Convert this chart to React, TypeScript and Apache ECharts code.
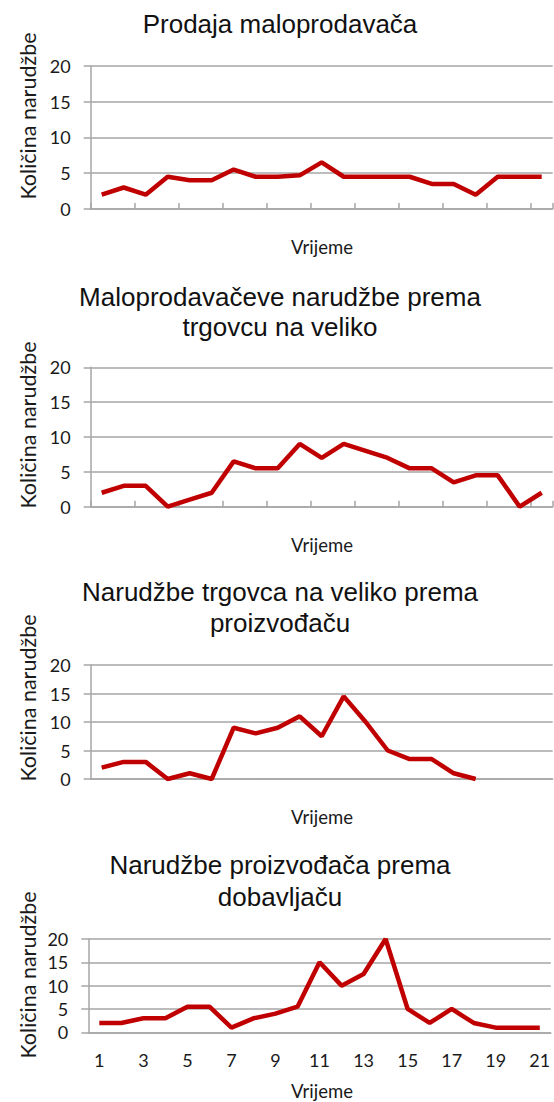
import React, { useEffect, useRef } from "react";
import * as echarts from "echarts";

const periods = ["1","2","3","4","5","6","7","8","9","10","11","12","13","14","15","16","17","18","19","20","21"];
const yTicks = { min: 0, max: 20, interval: 5 };

const titles1 = ["Prodaja maloprodavača"];
const titles2 = ["Maloprodavačeve narudžbe prema", "trgovcu na veliko"];
const titles3 = ["Narudžbe trgovca na veliko prema", "proizvođaču"];
const titles4 = ["Narudžbe proizvođača prema", "dobavljaču"];
const yName = "Količina narudžbe";
const xName = "Vrijeme";

const retailSales = [2, 3, 2, 4.5, 4, 4, 5.5, 4.5, 4.5, 4.7, 6.5, 4.5, 4.5, 4.5, 4.5, 3.5, 3.5, 2, 4.5, 4.5, 4.5];
const retailerOrders = [2, 3, 3, 0, 1, 2, 6.5, 5.5, 5.5, 9, 7, 9, 8, 7, 5.5, 5.5, 3.5, 4.5, 4.5, 0, 2];
const wholesalerOrders = [2, 3, 3, 0, 1, 0, 9, 8, 9, 11, 7.5, 14.5, 10, 5, 3.5, 3.5, 1, 0];
const manufacturerOrders = [2, 2, 3, 3, 5.5, 5.5, 1, 3, 4, 5.5, 15, 10, 12.5, 20, 5, 2, 5, 2, 1, 1, 1];

const seriesData = [retailSales, retailerOrders, wholesalerOrders, manufacturerOrders];
const titleLines = [titles1, titles2, titles3, titles4];

export default function App() {
  const ref = useRef<HTMLDivElement>(null);
  useEffect(() => {
    if (!ref.current) return;
    const chart = echarts.init(ref.current, undefined, { renderer: "svg" });
    const grids = [
      { left: 90.7, top: 65.7, width: 462, height: 143.3 },
      { left: 90.7, top: 367.3, width: 462, height: 139.4 },
      { left: 90.7, top: 665, width: 462, height: 114 },
      { left: 88.3, top: 939, width: 462.5, height: 93.3 },
    ];
    const titleY = [[23.5], [297, 327], [592, 623], [865, 897]];
    const yNameY = [116, 425, 698, 975];
    const xNameY = [247, 545, 817, 1091];
    const gray = "#a6a6a6";
    const textColor = "#1a1a1a";

    const graphic: any[] = [];
    titleLines.forEach((lines, i) => {
      lines.forEach((t, j) => {
        graphic.push({
          type: "text",
          x: 280,
          y: titleY[i][j],
          style: {
            text: t,
            fontFamily: "Liberation Sans",
            fontSize: 26,
            fill: "#111",
            align: "center",
            verticalAlign: "middle",
          },
        });
      });
      graphic.push({
        type: "text",
        x: 27.5,
        y: yNameY[i],
        rotation: Math.PI / 2,
        style: {
          text: yName,
          fontFamily: "Lato",
          fontSize: 21.5,
          fill: textColor,
          align: "center",
          verticalAlign: "middle",
        },
      });
      graphic.push({
        type: "text",
        x: 322,
        y: xNameY[i],
        style: {
          text: xName,
          fontFamily: "Lato",
          fontSize: 18.5,
          fill: textColor,
          align: "center",
          verticalAlign: "middle",
        },
      });
    });

    chart.setOption({
      animation: false,
      backgroundColor: "#fff",
      grid: grids,
      xAxis: grids.map((_, i) => ({
        type: "category",
        gridIndex: i,
        data: periods,
        boundaryGap: true,
        axisLine: { show: true, lineStyle: { color: gray, width: 1.5 } },
        axisTick: {
          show: i < 2,
          inside: true,
          length: 6,
          lineStyle: { color: gray, width: 1.5 },
        },
        axisLabel: {
          show: i === 3,
          interval: 1,
          margin: 19,
          fontFamily: "Lato",
          fontSize: 18,
          color: textColor,
        },
        splitLine: { show: false },
      })),
      yAxis: grids.map((_, i) => ({
        type: "value",
        gridIndex: i,
        min: yTicks.min,
        max: yTicks.max,
        interval: yTicks.interval,
        axisLine: { show: true, lineStyle: { color: gray, width: 1.5 } },
        axisTick: { show: true, length: 7, lineStyle: { color: gray, width: 1.5 } },
        axisLabel: {
          margin: 20,
          fontFamily: "Lato",
          fontSize: 18,
          color: textColor,
        },
        splitLine: { show: true, lineStyle: { color: gray, width: 1.5 } },
      })),
      series: seriesData.map((d, i) => ({
        type: "line",
        xAxisIndex: i,
        yAxisIndex: i,
        data: d,
        showSymbol: false,
        symbol: "none",
        lineStyle: { color: "#c00000", width: 4.5 },
      })),
      graphic,
    });
    return () => chart.dispose();
  }, []);
  return (
    <div
      ref={ref}
      style={{ position: "absolute", left: 0, top: 0, width: 554, height: 1102 }}
    />
  );
}
